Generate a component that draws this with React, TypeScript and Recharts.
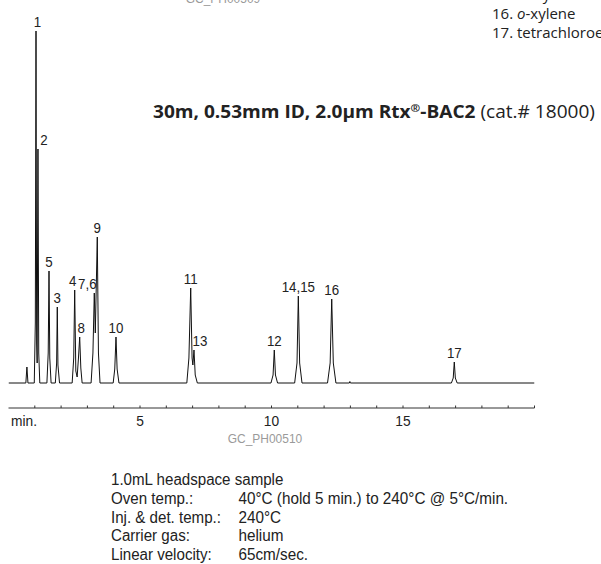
import React from "react";
import { LineChart, Line, XAxis, YAxis, ReferenceDot } from "recharts";

// detector trace (time in min, signal in arbitrary units)
const traceMin = [
  0, 0.66, 0.70, 0.74,
  0.98, 1.02, 1.046, 1.07, 1.09, 1.12, 1.15, 1.19,
  1.46, 1.51, 1.54, 1.57, 1.62,
  1.78, 1.83, 1.855, 1.88, 1.94,
  2.42, 2.48, 2.517, 2.56, 2.61, 2.66, 2.707, 2.75, 2.80,
  3.14, 3.21, 3.262, 3.30, 3.376, 3.42, 3.48,
  3.98, 4.04, 4.087, 4.13, 4.20,
  6.78, 6.86, 6.928, 6.98, 7.01, 7.053, 7.10, 7.18,
  9.98, 10.06, 10.106, 10.15, 10.23,
  10.88, 10.97, 11.02, 11.07, 11.16,
  12.13, 12.23, 12.29, 12.35, 12.45,
  12.96, 12.98, 13.0,
  16.84, 16.91, 16.95, 16.99, 17.06,
  20,
];
const traceSignal = [
  0, 0, 16, 0,
  0, 60, 352, 40, 20, 234, 30, 0,
  0, 30, 112, 25, 0,
  0, 20, 76, 18, 0,
  0, 25, 93, 12, 6, 25, 46, 15, 0,
  0, 30, 90, 50, 146, 30, 0,
  0, 14, 46, 14, 0,
  0, 25, 95, 25, 18, 33, 8, 0,
  0, 8, 33, 8, 0,
  0, 20, 87, 20, 0,
  0, 20, 84, 20, 0,
  0, 1.5, 0,
  0, 5, 21, 5, 0,
  0,
];

const peakLabels = ["1", "2", "5", "3", "4", "8", "7,6", "9", "10", "11", "13", "12", "14,15", "16", "17"];
const peakMin = [1.046, 1.12, 1.54, 1.855, 2.517, 2.707, 3.262, 3.376, 4.087, 6.928, 7.053, 10.106, 11.02, 12.29, 16.95];
const peakSignal = [352, 234, 112, 76, 93, 46, 90, 146, 46, 95, 33, 33, 87, 84, 21];

const minuteTicks = [0, 1, 2, 3, 4, 5, 6, 7, 8, 9, 10, 11, 12, 13, 14, 15, 16, 17, 18, 19, 20];
const labelledTicks = [5, 10, 15];

const compoundLines = [
  { no: "15.", pre: "m", rest: "-xylene" },
  { no: "16.", pre: "o", rest: "-xylene" },
  { no: "17.", pre: "", rest: "tetrachloroethene" },
];
const conditions = [
  ["1.0mL headspace sample", ""],
  ["Oven temp.:", "40°C (hold 5 min.) to 240°C @ 5°C/min."],
  ["Inj. & det. temp.:", "240°C"],
  ["Carrier gas:", "helium"],
  ["Linear velocity:", "65cm/sec."],
];

const traceData = traceMin.map((t, i) => ({ t, v: traceSignal[i] }));

// small horizontal nudges so labels sit where the original places them
const labelShift: Record<string, number> = { "1": 1.5, "2": 6, "4": -2, "7,6": -7, "13": 6, "8": 1.5 };

const SANS = '"Liberation Sans", Arial, sans-serif';
const HUMANIST = '"Open Sans", "Noto Sans", sans-serif';
const INK = "#222";

// narrow look: regular Arial-metric face squeezed horizontally
function Narrow({ x, y, size, sx, anchor, fill, children }: any) {
  return (
    <g transform={`translate(${x},${y}) scale(${sx},1)`}>
      <text x={0} y={0} fontSize={size} fontFamily={SANS} fill={fill || INK} textAnchor={anchor || "start"}>
        {children}
      </text>
    </g>
  );
}

function MinuteTick(props: any) {
  const { x, y, payload } = props;
  const v = payload.value;
  return (
    <g>
      {v > 0 && <line x1={x} x2={x} y1={y - 2.5} y2={y} stroke="#333" strokeWidth={1} />}
      {v === 0 && <Narrow x={x + 2.5} y={y + 18} size={14.5} sx={0.95}>min.</Narrow>}
      {labelledTicks.includes(v) && (
        <Narrow x={x} y={y + 18} size={14.5} sx={0.95} anchor="middle">{v}</Narrow>
      )}
    </g>
  );
}

export default function App() {
  return (
    <div style={{ position: "absolute", left: 0, top: 0, width: 601, height: 564, background: "#fff", overflow: "hidden" }}>
      <LineChart width={601} height={440} margin={{ top: 28, right: 66.5, bottom: 0, left: 8.5 }}>
        <XAxis
          type="number"
          dataKey="t"
          domain={[0, 20]}
          ticks={minuteTicks}
          interval={0}
          tick={<MinuteTick />}
          tickLine={false}
          tickSize={0}
          tickMargin={0}
          height={32}
          axisLine={{ stroke: "#333", strokeWidth: 1 }}
          allowDataOverflow
        />
        <YAxis hide type="number" domain={[-25, 355]} allowDataOverflow />
        <Line
          data={traceData}
          dataKey="v"
          type="linear"
          stroke="#111"
          strokeWidth={1}
          dot={false}
          isAnimationActive={false}
        />
        {peakLabels.map((lab, i) => (
          <ReferenceDot
            key={lab}
            x={peakMin[i]}
            y={peakSignal[i]}
            r={0}
            fill="none"
            stroke="none"
            ifOverflow="visible"
            label={(p: any) => (
              <Narrow x={p.viewBox.x + (labelShift[lab] || 0)} y={p.viewBox.y - 4} size={15.5} sx={0.86} anchor="middle">
                {lab}
              </Narrow>
            )}
          />
        ))}
      </LineChart>
      <svg width={601} height={564} style={{ position: "absolute", left: 0, top: 0, pointerEvents: "none" }}>
        <Narrow x={223} y={3} size={13} sx={0.92} anchor="middle" fill="#9a9a9a">GC_PH00509</Narrow>
        {compoundLines.map((c, i) => (
          <text key={c.no} x={492} y={-0.5 + i * 19} fontSize={15} fontFamily={HUMANIST} fill={INK}>
            {c.no + " "}
            {c.pre && <tspan fontStyle="italic">{c.pre}</tspan>}
            {c.rest}
          </text>
        ))}
        <g transform="translate(153,118) scale(1.06,1)">
          <text x={0} y={0} fontSize={18} fontFamily={HUMANIST} fill={INK}>
            <tspan fontWeight={700}>30m, 0.53mm ID, 2.0µm Rtx</tspan>
            <tspan fontWeight={700} fontSize={11} dy={-6.5}>®</tspan>
            <tspan fontWeight={700} dy={6.5}>-BAC2</tspan>
            <tspan> (cat.# 18000)</tspan>
          </text>
        </g>
        <Narrow x={265} y={443} size={13} sx={0.92} anchor="middle" fill="#9a9a9a">GC_PH00510</Narrow>
        {conditions.map((row, i) => (
          <g key={row[0]}>
            <Narrow x={111} y={485 + i * 18.75} size={16} sx={0.945}>{row[0]}</Narrow>
            {row[1] && <Narrow x={238.5} y={485 + i * 18.75} size={16} sx={0.955}>{row[1]}</Narrow>}
          </g>
        ))}
      </svg>
    </div>
  );
}
